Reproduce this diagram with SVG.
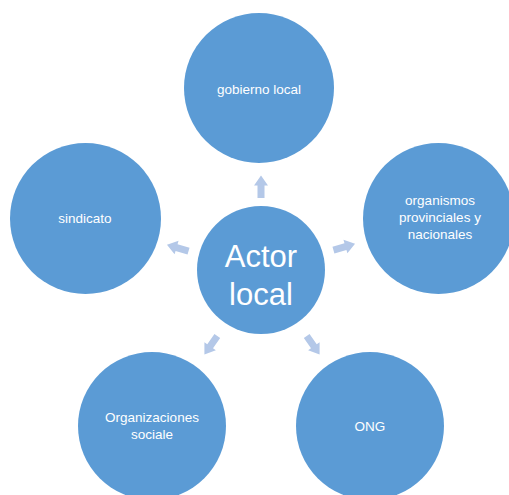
<svg xmlns="http://www.w3.org/2000/svg" width="509" height="495" viewBox="0 0 509 495">
<style>
.c{fill:#5B9BD5;}
.t{fill:#FFFFFF;font-family:"Liberation Sans",Arial,sans-serif;font-size:13.5px;text-anchor:middle;}
.big{font-size:31px;}
.a{fill:#B4C8E8;}
</style>
<defs>
<polygon id="arr" points="-11,-3.5 1.5,-3.5 1.5,-7 11.5,0 1.5,7 1.5,3.5 -11,3.5"/>
</defs>
<rect width="509" height="495" fill="#FFFFFF"/>
<g id="connectors">
<use href="#arr" class="a" transform="translate(261,187) rotate(-90)"/>
<use href="#arr" class="a" transform="translate(178,248) rotate(196.5)"/>
<use href="#arr" class="a" transform="translate(344,247) rotate(-16.3)"/>
<use href="#arr" class="a" transform="translate(211,345) rotate(125)"/>
<use href="#arr" class="a" transform="translate(313,345) rotate(55)"/>
</g>
<g id="gobierno">
<circle class="c" cx="259" cy="88" r="75"/>
<text class="t" x="259" y="94">gobierno local</text>
</g>
<g id="sindicato">
<circle class="c" cx="85.5" cy="218.5" r="75.5"/>
<text class="t" x="85" y="223">sindicato</text>
</g>
<g id="organismos">
<circle class="c" cx="438.5" cy="218.5" r="75.5"/>
<text class="t" x="440" y="205">organismos</text>
<text class="t" x="440" y="222">provinciales y</text>
<text class="t" x="440" y="239">nacionales</text>
</g>
<g id="organizaciones">
<circle class="c" cx="152" cy="426" r="74"/>
<text class="t" x="152" y="422">Organizaciones</text>
<text class="t" x="152" y="439">sociale</text>
</g>
<g id="ong">
<circle class="c" cx="370" cy="426" r="74"/>
<text class="t" x="370" y="431">ONG</text>
</g>
<g id="actor">
<circle class="c" cx="261" cy="270" r="64"/>
<text class="t big" x="261" y="267">Actor</text>
<text class="t big" x="261" y="305">local</text>
</g>
</svg>
